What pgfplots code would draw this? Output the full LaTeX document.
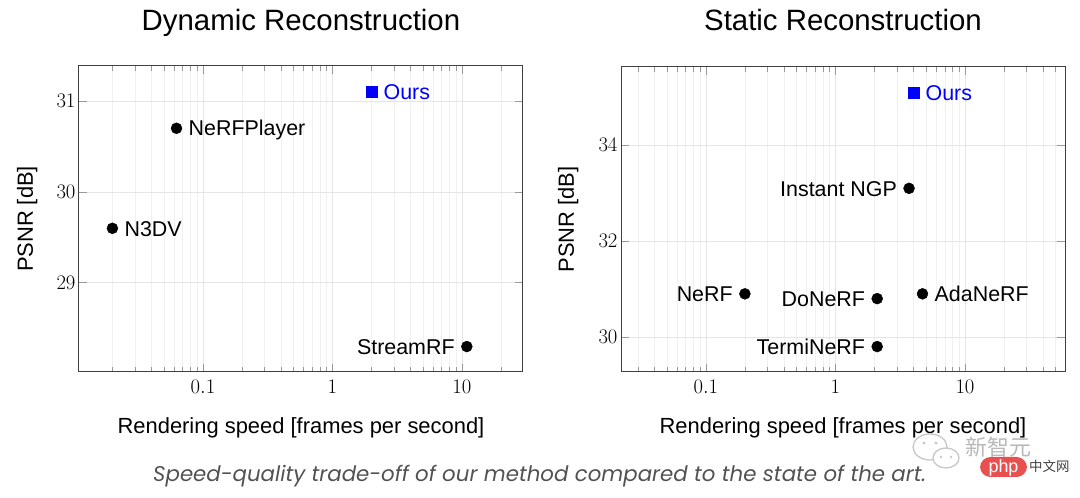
\documentclass[border=0pt]{standalone}
\usepackage{fontspec}
\setmainfont{Liberation Sans}
\newfontfamily\capfont{Poppins}
\newfontfamily\cjk{Noto Sans CJK SC}
\usepackage{pgfplots}
\pgfplotsset{compat=1.18}
\definecolor{phpred}{RGB}{232,80,80}
\tikzset{
  myrl/.style={font=\fontsize{21.5}{21.5}\selectfont, inner sep=0pt, anchor=base west, xshift=12bp, yshift=-7.7bp},
  myll/.style={font=\fontsize{21.5}{21.5}\selectfont, inner sep=0pt, anchor=base east, xshift=-12bp, yshift=-7.7bp},
}
\begin{document}
\begin{tikzpicture}
\useasboundingbox (0bp,0bp) rectangle (1080bp,498bp);
% Dynamic
\begin{axis}[xmode=log, scale only axis, width=444bp, height=306bp,
    at={(79bp,126bp)}, anchor=south west,
    clip=false,
    grid=both,
    major grid style={black!10, line width=0.8bp},
    minor grid style={black!6, line width=0.8bp},
    axis line style={black!75, line width=1bp},
    tick style={black!40, line width=0.8bp},
    major tick length=8bp, minor tick length=5bp,
    xtick={0.1,1,10}, xticklabels={$0.1$,$1$,$10$},
    minor xtick={0.02,0.03,0.04,0.05,0.06,0.07,0.08,0.09,0.2,0.3,0.4,0.5,0.6,0.7,0.8,0.9,2,3,4,5,6,7,8,9,20,30,40,50},
    tick label style={font=\fontsize{22}{22}\selectfont},
    xticklabel style={yshift=-5bp},
    title style={font=\fontsize{29.5}{29.5}\selectfont, at={(axis description cs:0.5,1)}, anchor=base, yshift=29.7bp},
    xlabel={Rendering speed [frames per second]},
    ylabel={PSNR [dB]},
    label style={font=\fontsize{22}{22}\selectfont},
    xlabel style={at={(axis description cs:0.5,0)}, anchor=base, yshift=-61bp},
    ylabel style={at={(axis description cs:-0.104,0.5)}, anchor=base},
    title={Dynamic Reconstruction},
    xmin=0.01104, xmax=29.6, ymin=28.02, ymax=31.385,
    ytick={29,30,31}]
  \addplot[only marks, mark=*, mark size=5.5bp, black] coordinates {(0.02,29.6) (0.0625,30.7) (10.9,28.3)};
  \addplot[only marks, mark=square*, mark size=5.3bp, blue] coordinates {(2.0,31.1)};
  \node[myrl] at (axis cs:0.02,29.6) {N3DV};
  \node[myrl] at (axis cs:0.0625,30.7) {NeRFPlayer};
  \node[myll] at (axis cs:10.9,28.3) {StreamRF};
  \node[myrl, text=blue] at (axis cs:2.0,31.1) {Ours};
\end{axis}
% Static
\begin{axis}[xmode=log, scale only axis, width=444bp, height=305bp,
    at={(621bp,126bp)}, anchor=south west,
    clip=false,
    grid=both,
    major grid style={black!10, line width=0.8bp},
    minor grid style={black!6, line width=0.8bp},
    axis line style={black!75, line width=1bp},
    tick style={black!40, line width=0.8bp},
    major tick length=8bp, minor tick length=5bp,
    xtick={0.1,1,10}, xticklabels={$0.1$,$1$,$10$},
    minor xtick={0.02,0.03,0.04,0.05,0.06,0.07,0.08,0.09,0.2,0.3,0.4,0.5,0.6,0.7,0.8,0.9,2,3,4,5,6,7,8,9,20,30,40,50},
    tick label style={font=\fontsize{22}{22}\selectfont},
    xticklabel style={yshift=-5bp},
    title style={font=\fontsize{29.5}{29.5}\selectfont, at={(axis description cs:0.5,1)}, anchor=base, yshift=30.7bp},
    xlabel={Rendering speed [frames per second]},
    ylabel={PSNR [dB]},
    label style={font=\fontsize{22}{22}\selectfont},
    xlabel style={at={(axis description cs:0.5,0)}, anchor=base, yshift=-61bp},
    ylabel style={at={(axis description cs:-0.106,0.5)}, anchor=base},
    title={Static Reconstruction},
    xmin=0.0221, xmax=59.2, ymin=29.27, ymax=35.63,
    ytick={30,32,34}]
  \addplot[only marks, mark=*, mark size=5.5bp, black] coordinates {(0.2,30.9) (2.1,30.8) (4.7,30.9) (2.1,29.8) (3.7,33.1)};
  \addplot[only marks, mark=square*, mark size=5.3bp, blue] coordinates {(4.0,35.1)};
  \node[myll] at (axis cs:0.2,30.9) {NeRF};
  \node[myll] at (axis cs:2.1,30.8) {DoNeRF};
  \node[myrl] at (axis cs:4.7,30.9) {AdaNeRF};
  \node[myll] at (axis cs:2.1,29.8) {TermiNeRF};
  \node[myll] at (axis cs:3.7,33.1) {Instant NGP};
  \node[myrl, text=blue] at (axis cs:4.0,35.1) {Ours};
\end{axis}
% caption
\node[anchor=base west, inner sep=0pt, text=black!68, font=\capfont\itshape\fontsize{21.4}{21.4}\selectfont] at (153bp,17bp) {Speed-quality trade-off of our method compared to the state of the art.};
% watermark
\draw[black!22, line width=1.3bp, fill=white] (930bp,51bp) ellipse (17bp and 13bp);
\draw[black!22, line width=1.3bp, fill=white] (946bp,40bp) ellipse (13bp and 10bp);
\fill[black!22] (924bp,55bp) circle (1.6bp) (936bp,55bp) circle (1.6bp) (941bp,41bp) circle (1.4bp) (951bp,41bp) circle (1.4bp);
\node[anchor=base west, inner sep=0pt, text=black!28, font=\cjk\fontsize{22}{22}\selectfont] at (965bp,42bp) {新智元};
\fill[phpred, rounded corners=10.5bp] (980bp,21bp) rectangle (1027bp,41bp);
\node[text=white, inner sep=0pt, font=\fontsize{18}{18}\selectfont] at (1003.5bp,30bp) {php};
\node[anchor=base west, inner sep=0pt, text=black!75, font=\cjk\fontsize{13.5}{13.5}\selectfont] at (1029bp,27bp) {中文网};
\end{tikzpicture}
\end{document}
